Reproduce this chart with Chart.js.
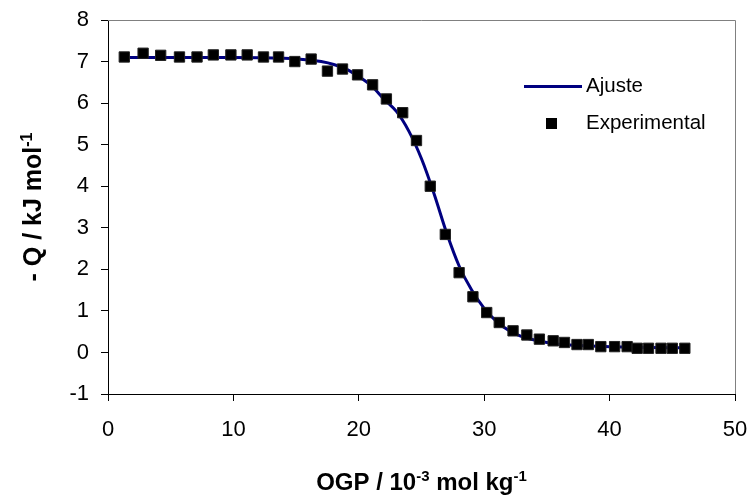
<!DOCTYPE html>
<html>
<head>
<meta charset="utf-8">
<script src="https://cdn.jsdelivr.net/npm/chart.js@4/dist/chart.umd.min.js"></script>
<style>
  html, body { margin: 0; padding: 0; background: #fff; }
  #wrap { width: 749px; height: 504px; position: relative; }
</style>
</head>
<body>
<div id="wrap"><canvas id="chart"></canvas></div>
<script>
// experimental points
var expX = [1.3, 2.8, 4.2, 5.7, 7.1, 8.4, 9.8, 11.1, 12.4, 13.6, 14.9, 16.2, 17.5, 18.7, 19.9, 21.1, 22.2, 23.5, 24.6, 25.7,
            26.9, 28.0, 29.1, 30.2, 31.2, 32.3, 33.4, 34.4, 35.5, 36.4, 37.4, 38.3, 39.3, 40.4, 41.4, 42.2, 43.1, 44.1, 45.0, 46.0];
var expY = [7.11, 7.20, 7.15, 7.11, 7.11, 7.16, 7.16, 7.16, 7.11, 7.11, 7.00, 7.06, 6.77, 6.82, 6.68, 6.44, 6.10, 5.77, 5.10, 4.00,
            2.84, 1.92, 1.34, 0.96, 0.72, 0.52, 0.42, 0.32, 0.28, 0.24, 0.19, 0.19, 0.14, 0.14, 0.14, 0.10, 0.10, 0.10, 0.10, 0.10];

// fitted curve
var fitX = [1.3, 5, 10, 14, 16, 17, 18, 19, 20, 21, 22, 23, 24, 25, 26, 27, 28, 29, 30, 31, 32, 33, 34, 35, 36, 38, 40, 43, 46];
var fitY = [7.10, 7.10, 7.10, 7.08, 7.04, 7.00, 6.93, 6.82, 6.64, 6.42, 6.10, 5.80, 5.32, 4.66, 3.82, 2.88, 2.08, 1.50, 1.06,
            0.74, 0.52, 0.38, 0.30, 0.24, 0.20, 0.16, 0.14, 0.12, 0.11];

var legendLabels = ['Ajuste', 'Experimental'];
var xTitle = [['OGP / 10', false], ['-3', true], [' mol kg', false], ['-1', true]];
var yTitle = [['- Q / kJ mol', false], ['-1', true]];

var FONT = '"Liberation Sans", Arial, sans-serif';

function toPoints(xs, ys) {
  return xs.map(function (x, i) { return { x: x, y: ys[i] }; });
}

// draws text made of normal and superscript pieces, centred on (0,0)
function drawRich(ctx, parts, size) {
  var supSize = Math.round(size * 0.62);
  var total = 0;
  parts.forEach(function (p) {
    ctx.font = 'bold ' + (p[1] ? supSize : size) + 'px ' + FONT;
    total += ctx.measureText(p[0]).width;
  });
  var x = -total / 2;
  ctx.textBaseline = 'alphabetic';
  ctx.textAlign = 'left';
  parts.forEach(function (p) {
    ctx.font = 'bold ' + (p[1] ? supSize : size) + 'px ' + FONT;
    ctx.fillText(p[0], x, p[1] ? -size * 0.38 : 0);
    x += ctx.measureText(p[0]).width;
  });
}

var excelLook = {
  id: 'excelLook',
  beforeDraw: function (chart) {
    var ctx = chart.ctx;
    ctx.save();
    ctx.fillStyle = 'white';
    ctx.fillRect(0, 0, chart.width, chart.height);
    ctx.restore();
  },
  afterDraw: function (chart) {
    var ctx = chart.ctx;
    var a = chart.chartArea;
    ctx.save();
    // gray frame on top and right of the plot area
    ctx.strokeStyle = '#808080';
    ctx.lineWidth = 1;
    ctx.beginPath();
    ctx.moveTo(a.left, Math.round(a.top) + 0.5);
    ctx.lineTo(Math.round(a.right) + 0.5, Math.round(a.top) + 0.5);
    ctx.lineTo(Math.round(a.right) + 0.5, a.bottom);
    ctx.stroke();

    // axis titles
    ctx.fillStyle = '#000';
    ctx.save();
    ctx.translate((a.left + a.right) / 2, 490);
    drawRich(ctx, xTitle, 24);
    ctx.restore();
    ctx.save();
    ctx.translate(41, (a.top + a.bottom) / 2);
    ctx.rotate(-Math.PI / 2);
    drawRich(ctx, yTitle, 25);
    ctx.restore();

    // legend
    ctx.strokeStyle = '#000080';
    ctx.lineWidth = 3;
    ctx.beginPath();
    ctx.moveTo(524, 86.5);
    ctx.lineTo(582, 86.5);
    ctx.stroke();
    ctx.fillStyle = '#000';
    ctx.fillRect(546, 118, 11, 11);
    ctx.font = '20.5px ' + FONT;
    ctx.textAlign = 'left';
    ctx.textBaseline = 'middle';
    ctx.fillText(legendLabels[0], 586, 86);
    ctx.fillText(legendLabels[1], 586, 123);
    ctx.restore();
  }
};

var chart = new Chart(document.getElementById('chart'), {
  type: 'scatter',
  data: {
    datasets: [
      {
        label: legendLabels[1],
        data: toPoints(expX, expY),
        showLine: false,
        pointStyle: 'rect',
        pointRadius: 7.3,
        pointBackgroundColor: '#000',
        pointBorderColor: '#222',
        pointBorderWidth: 1
      },
      {
        label: legendLabels[0],
        data: toPoints(fitX, fitY),
        showLine: true,
        borderColor: '#000080',
        borderWidth: 3,
        pointRadius: 0,
        cubicInterpolationMode: 'monotone',
        fill: false
      }
    ]
  },
  options: {
    animation: false,
    responsive: true,
    maintainAspectRatio: false,
    layout: { padding: { top: 20, right: 14, left: 0, bottom: 0 } },
    plugins: {
      legend: { display: false },
      tooltip: { enabled: false }
    },
    scales: {
      x: {
        type: 'linear',
        min: 0,
        max: 50,
        afterFit: function (scale) {
          scale.height = 110;
          scale.paddingLeft = 0;
          scale.paddingRight = 0;
        },
        ticks: {
          stepSize: 10,
          color: '#000',
          padding: 16,
          maxRotation: 0,
          font: { family: FONT, size: 22 }
        },
        grid: { drawOnChartArea: false, drawTicks: true, tickLength: 7, color: '#000' },
        border: { display: true, color: '#000', width: 1 }
      },
      y: {
        min: -1,
        max: 8,
        afterFit: function (scale) {
          scale.width = 108;
          scale.paddingTop = 0;
          scale.paddingBottom = 0;
        },
        ticks: {
          stepSize: 1,
          color: '#000',
          padding: 12,
          font: { family: FONT, size: 22 }
        },
        grid: { drawOnChartArea: false, drawTicks: true, tickLength: 7, color: '#000' },
        border: { display: true, color: '#000', width: 1 }
      }
    }
  },
  plugins: [excelLook]
});
</script>
</body>
</html>
